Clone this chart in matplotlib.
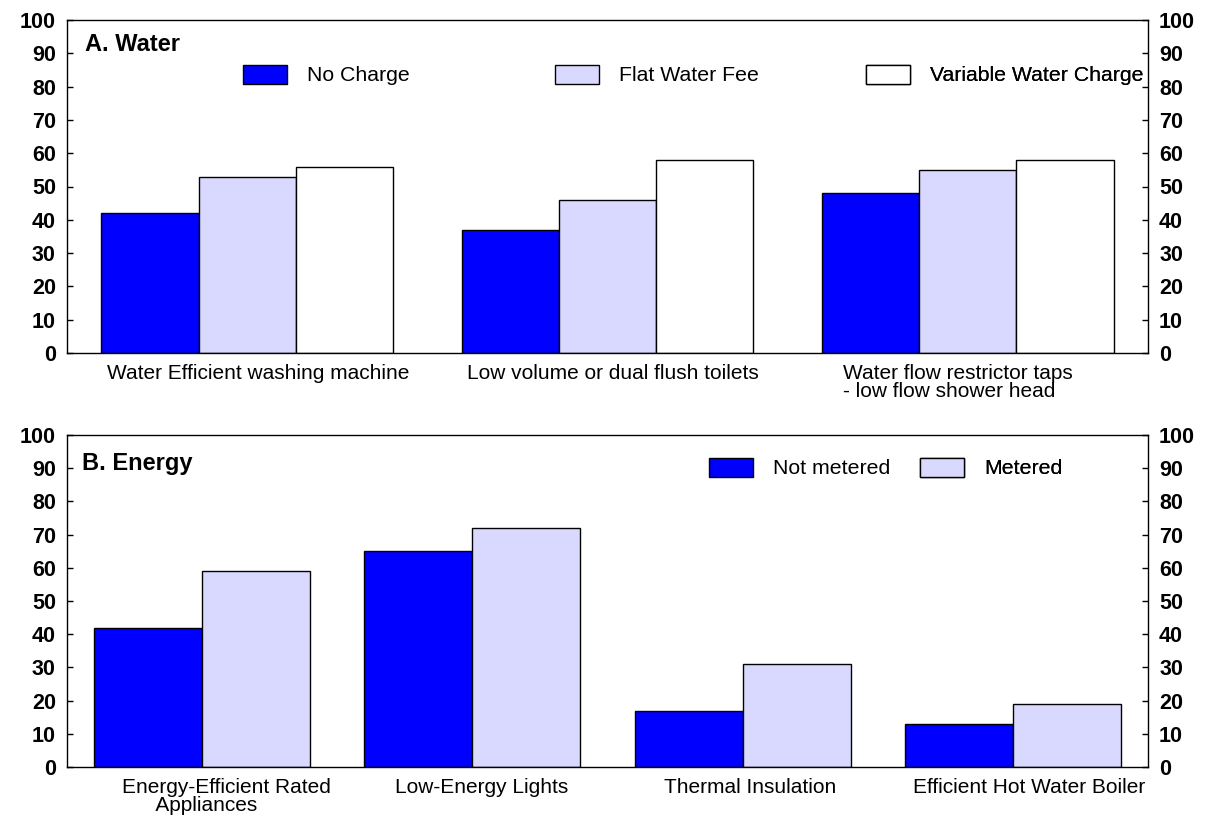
import matplotlib
matplotlib.use("Agg")
import matplotlib.pyplot as plt
from matplotlib.patches import Patch
from matplotlib.transforms import ScaledTranslation
import numpy as np

plt.rcParams['font.family'] = ['Liberation Sans', 'DejaVu Sans']

# Panel A data
water_cats = ["Water Efficient washing machine", "Low volume or dual flush toilets",
              "Water flow restrictor taps\n- low flow shower head"]
water_series = ["No Charge", "Flat Water Fee", "Variable Water Charge"]
no_charge = [42, 37, 48]
flat_fee = [53, 46, 55]
variable_charge = [56, 58, 58]

# Panel B data
energy_cats = ["Energy-Efficient Rated\n      Appliances", "Low-Energy Lights",
               "Thermal Insulation", "Efficient Hot Water Boiler"]
energy_series = ["Not metered", "Metered"]
not_metered = [42, 65, 17, 13]
metered = [59, 72, 31, 19]

yticks = list(range(0, 101, 10))

BLUE = "#0000FF"
LAV = "#D9D9FF"
WHITE = "#FFFFFF"

fig = plt.figure(figsize=(12.11, 8.18), dpi=100)
W, H = 1211, 818

def make_ax(l, t, r, b):
    return fig.add_axes([l / W, 1 - b / H, (r - l) / W, (b - t) / H])

axA = make_ax(67, 20, 1148, 353)
axB = make_ax(67, 435, 1148, 767)

def style(ax):
    ax.set_ylim(0, 100)
    ax.set_yticks(yticks)
    ax.tick_params(axis='y', direction='in', length=4, width=1, left=True, right=True,
                   labelleft=True, labelright=True, pad=8, labelsize=15.5)
    for t in ax.yaxis.get_major_ticks():
        t.label1.set_fontweight('bold')
        t.label2.set_fontweight('bold')
    ax.tick_params(axis='x', length=0, pad=8, labelsize=15)
    for s in ax.spines.values():
        s.set_linewidth(1)
        s.set_color('black')

def shift_labels(ax, offsets_px):
    for lab, dx in zip(ax.get_xticklabels(), offsets_px):
        lab.set_transform(lab.get_transform() + ScaledTranslation(dx / 100, 0, fig.dpi_scale_trans))
        lab.set_linespacing(0.9)

# Panel A
x = np.arange(len(water_cats)) + 0.5
bw = 0.27
colsA = [BLUE, LAV, WHITE]
valsA = [no_charge, flat_fee, variable_charge]
for i, (vals, c) in enumerate(zip(valsA, colsA)):
    axA.bar(x + (i - 1) * bw, vals, bw, color=c, edgecolor='black', linewidth=1)
axA.set_xlim(0, len(water_cats))
style(axA)
axA.set_xticks(x)
axA.set_xticklabels(water_cats)
axA.get_xticklabels()[2].set_multialignment('left')
shift_labels(axA, [11, 5, -10])
axA.text(0.017, 0.925, "A. Water", transform=axA.transAxes, fontsize=17, fontweight='bold',
         va='center', ha='left')

def leg(ax, label, color, xpx, ypx, top, bottom):
    lx = (xpx - 67) / 1081
    ly = (bottom - ypx) / (bottom - top)
    lg = ax.legend(handles=[Patch(facecolor=color, edgecolor='black', linewidth=1)],
                   labels=[label], loc='center left', bbox_to_anchor=(lx, ly),
                   frameon=False, borderpad=0, borderaxespad=0, handlelength=2.05,
                   handleheight=1.0, handletextpad=0.95, fontsize=15.3)
    ax.add_artist(lg)

for lab, c, xp in zip(water_series, colsA, [243, 555, 866]):
    leg(axA, lab, c, xp, 75, 20, 353)

# Panel B
xb = np.arange(len(energy_cats)) + 0.5
bwb = 0.4
colsB = [BLUE, LAV]
valsB = [not_metered, metered]
for i, (vals, c) in enumerate(zip(valsB, colsB)):
    axB.bar(xb + (i - 0.5) * bwb, vals, bwb, color=c, edgecolor='black', linewidth=1)
axB.set_xlim(0, len(energy_cats))
style(axB)
axB.set_xticks(xb)
axB.set_xticklabels(energy_cats)
axB.get_xticklabels()[0].set_multialignment('left')
shift_labels(axB, [24, 9, 8, 16])
axB.text(0.014, 0.915, "B. Energy", transform=axB.transAxes, fontsize=17, fontweight='bold',
         va='center', ha='left')
for lab, c, xp in zip(energy_series, colsB, [709, 920]):
    leg(axB, lab, c, xp, 468, 435, 767)

fig.savefig("out.png", dpi=100)
